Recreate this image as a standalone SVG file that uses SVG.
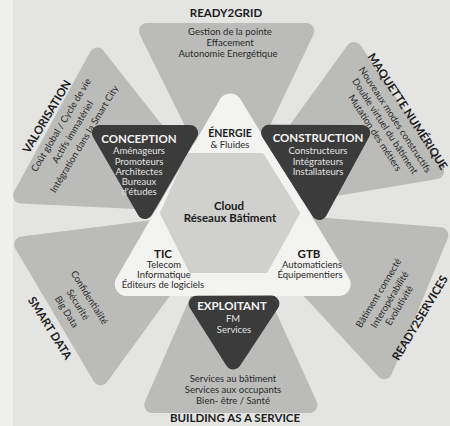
<svg xmlns="http://www.w3.org/2000/svg" width="450" height="426" viewBox="0 0 450 426">
<style>
.bg{fill:#e4e4e2}
.sec{fill:#bbbbb9;stroke:#bbbbb9;stroke-width:16;stroke-linejoin:round}
.wt{fill:#f3f3f1;stroke:#f3f3f1;stroke-width:24;stroke-linejoin:round}
.hex{fill:#d0d0ce;stroke:#d0d0ce;stroke-width:4;stroke-linejoin:round}
.dk{fill:#3b3b3b;stroke:#3b3b3b;stroke-width:16;stroke-linejoin:round}
text{font-family:Lato,"Open Sans","DejaVu Sans",sans-serif;text-anchor:middle;fill:#2a2a2a}
.t{font-size:9.5px}
.h{font-size:11.5px;font-weight:700;fill:#1c1c1c}
.w{fill:#f4f4f4}
.wl{fill:#e2e2e2}
</style>
<rect class="bg" x="0" y="0" width="450" height="426"/>
<rect x="0" y="0" width="13" height="426" fill="#f0f0ef"/>

<g id="ready2grid">
<polygon class="sec" points="146.9,31 306.3,31 228,195"/>
</g>
<g id="maquette">
<polygon class="sec" points="354,50 436.3,171.1 242.7,203.7"/>
</g>
<g id="ready2services">
<polygon class="sec" points="440.4,235.2 384.4,371.2 243.3,219.1"/>
</g>
<g id="building">
<polygon class="sec" points="309.5,405 152.3,405 229,228"/>
</g>
<g id="smartdata">
<polygon class="sec" points="100.6,377.3 22.2,244.5 215.2,220.1"/>
</g>
<g id="valorisation">
<polygon class="sec" points="21.1,195.5 97.2,55.6 214.7,204.7"/>
</g>

<g id="white-triangle">
<polygon class="wt" points="230.2,105.5 126.8,284 338.7,284"/>
</g>
<g id="cloud">
<polygon class="hex" points="188,155 262,155 298,213 266,271 191,271 162,213"/>
<text class="h" x="229" y="210">Cloud</text>
<text class="h" x="230" y="222">Réseaux Bâtiment</text>
</g>
<g id="conception">
<polygon class="dk" points="99.9,133 190.1,133 145,211"/>
<text class="h w" x="139" y="143">CONCEPTION</text>
<text class="t wl" x="139" y="154">Aménageurs</text>
<text class="t wl" x="139" y="164.5">Promoteurs</text>
<text class="t wl" x="139" y="174.5">Architectes</text>
<text class="t wl" x="139" y="184.5">Bureaux</text>
<text class="t wl" x="139" y="195">d'études</text>
</g>
<g id="construction">
<polygon class="dk" points="269,132.7 362.2,133 319.3,212"/>
<text class="h w" x="318" y="142">CONSTRUCTION</text>
<text class="t wl" x="318" y="154">Constructeurs</text>
<text class="t wl" x="318" y="165">Intégrateurs</text>
<text class="t wl" x="318" y="175">Installateurs</text>
</g>
<g id="exploitant">
<polygon class="dk" points="196.6,303.7 271.4,303.6 233.2,361.5"/>
<text class="h w" x="232" y="310">EXPLOITANT</text>
<text class="t wl" x="233" y="322">FM</text>
<text class="t wl" x="234" y="333">Services</text>
</g>
<g id="energie">
<text class="h" x="230" y="137" style="font-size:10.5px">ÉNERGIE</text>
<text class="t" x="230" y="148">&amp; Fluides</text>
</g>
<g id="tic">
<text class="h" x="163" y="258">TIC</text>
<text class="t" x="164" y="268">Telecom</text>
<text class="t" x="164" y="278">Informatique</text>
<text class="t" x="163" y="288">Éditeurs de logiciels</text>
</g>
<g id="gtb">
<text class="h" x="309" y="258">GTB</text>
<text class="t" x="312" y="268">Automaticiens</text>
<text class="t" x="310" y="278">Équipementiers</text>
</g>

<g id="ready2grid-text">
<text class="h" x="226" y="17">READY2GRID</text>
<text class="t" x="230" y="35">Gestion de la pointe</text>
<text class="t" x="230" y="46">Effacement</text>
<text class="t" x="228" y="57">Autonomie Energétique</text>
</g>
<g id="valorisation-text" transform="translate(61,125) rotate(-59)">
<text class="h" x="0" y="-12.5">VALORISATION</text>
<text class="t" x="0" y="3.3">Coût global / Cycle de vie</text>
<text class="t" x="0" y="16.8">Actifs immatériel</text>
<text class="t" x="0" y="30.3">Intégration dans la Smart City</text>
</g>
<g id="maquette-text" transform="translate(394,118) rotate(57)">
<text class="h" x="2" y="-11">MAQUETTE NUMÉRIQUE</text>
<text class="t" x="2" y="3.3">Nouveaux modes constructifs</text>
<text class="t" x="2" y="15.3">Double virtuel du bâtiment</text>
<text class="t" x="2" y="27.3">Mutation des métiers</text>
</g>
<g id="smartdata-text" transform="translate(89.5,297.5) rotate(58)">
<text class="t" x="0" y="3.3">Confidentialité</text>
<text class="t" x="0" y="16.9">Sécurité</text>
<text class="t" x="0" y="30.2">Big Data</text>
<text class="h" x="5" y="53.8">SMART DATA</text>
</g>
<g id="ready2services-text" transform="translate(378.5,293) rotate(-59)">
<text class="t" x="0" y="3.3">Bâtiment connecté</text>
<text class="t" x="0" y="16.1">Interopérabilité</text>
<text class="t" x="0" y="27.4">Evolutivité</text>
<text class="h" x="0" y="52.4">READY2SERVICES</text>
</g>
<g id="building-text">
<text class="t" x="233" y="382">Services au bâtiment</text>
<text class="t" x="233" y="393">Services aux occupants</text>
<text class="t" x="233" y="404">Bien- être / Santé</text>
<text class="h" x="235" y="421.5" style="font-size:11.5px">BUILDING AS A SERVICE</text>
</g>
<g id="connectors"/>
</svg>
